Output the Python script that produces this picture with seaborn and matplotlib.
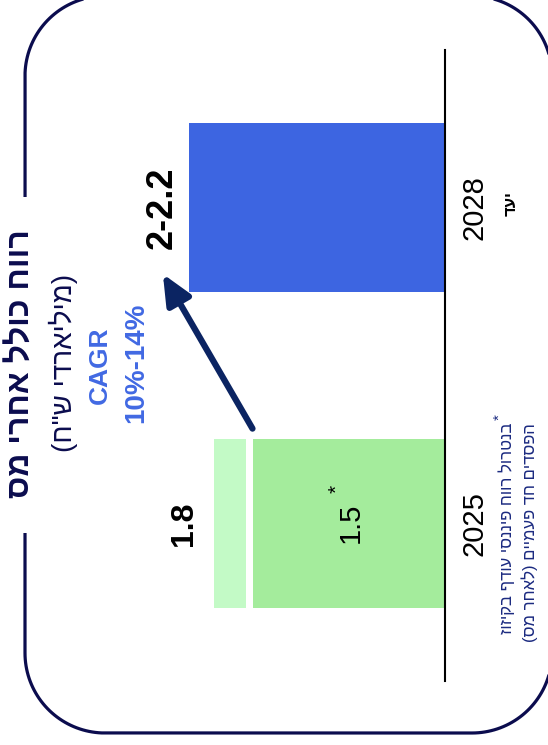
import matplotlib
matplotlib.use("Agg")
import matplotlib.pyplot as plt
import seaborn as sns
import numpy as np
import pandas as pd
from matplotlib.patches import Rectangle

# ---- data (NIS billions) ----
years = ["2028", "2025"]
profit = [2.0, 1.5]              # 2028 target (lower end), 2025 normalized
profit_2025_reported = 1.8
target_high = 2.2
bar_labels = ["2-2.2", "1.5"]
reported_label = "1.8"
target_tag = "יעד"
title = "רווח כולל אחרי מס"
subtitle = "(מיליארדי ש\"ח)"
cagr_title = "CAGR"
cagr_range = "10%-14%"
footnote = ["בנטרול רווח פיננסי עודף בקיזוז", "הפסדים חד פעמיים (לאחר מס)"]

# ---- colours ----
BLUE = "#3D65E1"
GREEN = "#A4EC9C"
LIGHT_GREEN = "#C3FAC6"
TEXT_BLUE = "#4169E3"
NAVY = "#0B0C4E"
ARROW = "#0B2462"
NOTE = "#1B2A80"


def visual(s):
    """Hebrew is drawn left-to-right by matplotlib: reverse and mirror brackets."""
    mirror = {"(": ")", ")": "("}
    return "".join(mirror.get(c, c) for c in reversed(s))


def rounded_outline(x0, y0, x1, y1, r, n=40):
    """Closed outline of a rounded rectangle with circular corners."""
    pts = []
    corners = [(x1 - r, y0 + r, -90, 0), (x1 - r, y1 - r, 0, 90),
               (x0 + r, y1 - r, 90, 180), (x0 + r, y0 + r, 180, 270)]
    for cx, cy, a0, a1 in corners:
        t = np.radians(np.linspace(a0, a1, n))
        pts.append(np.column_stack([cx + r * np.cos(t), cy + r * np.sin(t)]))
    pts = np.vstack(pts)
    return np.vstack([pts, pts[:1]])


sns.set_theme(style="white")
plt.rcParams["font.family"] = ["Liberation Sans", "DejaVu Sans"]

W, H = 548, 745
fig = plt.figure(figsize=(W / 100, H / 100), dpi=100)


def fx(px):
    return px / W


def fy(py):
    return 1 - py / H


# ---- frame (pixel-space overlay, y grows downwards) ----
frame = fig.add_axes([0, 0, 1, 1], zorder=0)
frame.set_xlim(0, W)
frame.set_ylim(H, 0)
frame.axis("off")
outline = rounded_outline(25, -4, 552, 733, 80)
frame.plot(outline[:, 0], outline[:, 1], color=NAVY, lw=2.3,
           solid_capstyle="butt", solid_joinstyle="round")
frame.add_patch(Rectangle((15, 197), 20, 336, fc="white", ec="none", zorder=3))

# ---- bar axes: horizontal bars growing to the left from the baseline ----
px_per_unit = 128
base_px = 444.5
xmax = 3.2
ax = fig.add_axes([fx(base_px - xmax * px_per_unit), fy(681),
                   xmax * px_per_unit / W, (681 - 50) / H], zorder=1)
ax.set_facecolor("none")

df = pd.DataFrame({"year": years, "profit": profit})
bar_h = 0.535
sns.barplot(data=df, x="profit", y="year", order=years, hue="year",
            palette={"2028": BLUE, "2025": GREEN}, saturation=1,
            width=bar_h, orient="h", legend=False, linewidth=0, ax=ax)

pos = {y: i for i, y in enumerate(years)}
gap = 0.05
ax.barh(pos["2025"], profit_2025_reported - profit[1] - gap,
        left=profit[1] + gap, height=bar_h, color=LIGHT_GREEN, linewidth=0)

ax.set_xlim(xmax, 0)
ax.set_ylim(1.5, -0.5)
ax.set_xticks([])
ax.set_yticks([])
ax.set_xlabel("")
ax.set_ylabel("")
for side in ["left", "top", "bottom"]:
    ax.spines[side].set_visible(False)
ax.spines["right"].set_color("black")
ax.spines["right"].set_linewidth(1.5)

# value labels
ax.annotate(bar_labels[0], (profit[0], pos["2028"]), xytext=(-26, 0),
            textcoords="offset pixels", rotation=90, ha="center", va="center",
            fontsize=26, fontweight="bold", color="black")
ax.annotate(reported_label, (profit_2025_reported, pos["2025"]), xytext=(-30, 0),
            textcoords="offset pixels", rotation=90, ha="center", va="center",
            fontsize=23, fontweight="bold", color="black")
ax.annotate(bar_labels[1], (profit[1] / 2, pos["2025"]), xytext=(2, 0),
            textcoords="offset pixels", rotation=90, ha="center", va="center",
            fontsize=21, color="black")
ax.annotate("*", (profit[1] / 2, pos["2025"]), xytext=(-12, 34),
            textcoords="offset pixels", rotation=90, ha="center", va="center",
            fontsize=15, color="black")

# category labels under the baseline
for yr in years:
    ax.annotate(yr, (0, pos[yr]), xytext=(30, 0), textcoords="offset pixels",
                rotation=90, ha="center", va="center", fontsize=21, color="black")
ax.annotate(visual(target_tag), (0, pos["2028"]), xytext=(67, 4),
            textcoords="offset pixels", rotation=90, ha="center", va="center",
            fontsize=12, fontweight="bold", color="black")

# growth arrow from 2025 towards the 2028 target range
ax.annotate("", xy=(target_high, 0.21), xytext=(profit[1], 0.70),
            arrowprops=dict(arrowstyle="-|>,head_length=1.0,head_width=0.45",
                            mutation_scale=18, lw=4.5, color=ARROW,
                            shrinkA=0, shrinkB=0))

# ---- titles ----
fig.text(fx(22), fy(364), visual(title), rotation=90, ha="center", va="center",
         fontsize=23, fontweight="bold", color=NAVY, zorder=5)
fig.text(fx(63), fy(363), visual(subtitle), rotation=90, ha="center", va="center",
         fontsize=20, color=NAVY, zorder=5)
fig.text(fx(100), fy(365), cagr_title, rotation=90, ha="center", va="center",
         fontsize=19, fontweight="bold", color=TEXT_BLUE, zorder=5)
fig.text(fx(136), fy(363), cagr_range, rotation=90, ha="center", va="center",
         fontsize=20, fontweight="bold", color=TEXT_BLUE, zorder=5)

# ---- footnote ----
fig.text(fx(500), fy(417), "*", rotation=90, ha="center", va="center",
         fontsize=11, color=NOTE)
fig.text(fx(507), fy(423), visual(footnote[0]), rotation=90, ha="center", va="top",
         fontsize=12, color=NOTE)
fig.text(fx(530), fy(423), visual(footnote[1]), rotation=90, ha="center", va="top",
         fontsize=12, color=NOTE)

fig.savefig("out.png", dpi=100)
